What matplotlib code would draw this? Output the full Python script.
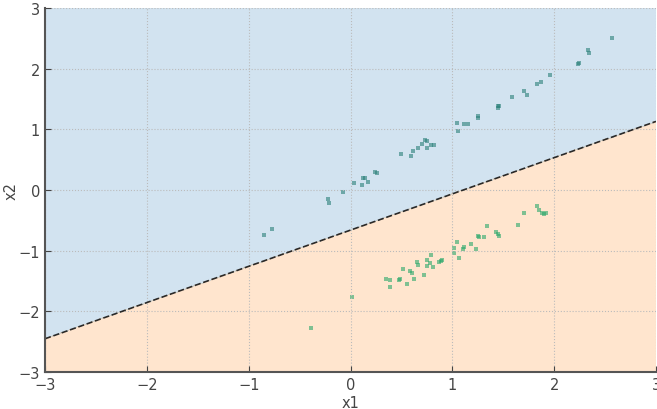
import numpy as np
import matplotlib
matplotlib.use("Agg")
import matplotlib.pyplot as plt

# class above the boundary
x1_a = [-0.85, -0.77, -0.22, -0.21, -0.07, 0.03, 0.11, 0.12, 0.14, 0.17, 0.24, 0.26,
        0.50, 0.59, 0.61, 0.66, 0.70, 0.73, 0.75, 0.75, 0.79, 0.82,
        1.05, 1.06, 1.11, 1.15, 1.25, 1.25, 1.45, 1.46, 1.45, 1.59, 1.70, 1.73,
        1.83, 1.87, 1.96, 2.23, 2.24, 2.33, 2.34, 2.57]
x2_a = [-0.74, -0.64, -0.15, -0.21, -0.03, 0.11, 0.08, 0.20, 0.20, 0.14, 0.29, 0.28,
        0.59, 0.56, 0.65, 0.69, 0.76, 0.83, 0.81, 0.69, 0.74, 0.74,
        1.10, 0.97, 1.09, 1.09, 1.22, 1.19, 1.38, 1.39, 1.35, 1.53, 1.63, 1.56,
        1.74, 1.78, 1.90, 2.08, 2.10, 2.30, 2.26, 2.50]

# class below the boundary
x1_b = [-0.39, 0.01, 0.35, 0.39, 0.39, 0.48, 0.49, 0.52, 0.55, 0.58, 0.60, 0.62,
        0.65, 0.66, 0.72, 0.75, 0.75, 0.79, 0.78, 0.81, 0.87, 0.89, 0.90,
        1.02, 1.02, 1.05, 1.07, 1.10, 1.11, 1.18, 1.23, 1.25, 1.26, 1.31, 1.34,
        1.43, 1.45, 1.46, 1.64, 1.70, 1.83, 1.85, 1.88, 1.90, 1.92]
x2_b = [-2.28, -1.77, -1.47, -1.49, -1.59, -1.48, -1.46, -1.30, -1.54, -1.33, -1.36, -1.46,
        -1.19, -1.24, -1.40, -1.15, -1.25, -1.07, -1.20, -1.26, -1.18, -1.17, -1.15,
        -1.03, -0.96, -0.86, -1.12, -0.97, -0.94, -0.89, -0.97, -0.75, -0.77, -0.78, -0.60,
        -0.69, -0.72, -0.75, -0.58, -0.37, -0.27, -0.33, -0.38, -0.40, -0.37]

# decision boundary x2 = slope * x1 + intercept
slope = 0.597
intercept = -0.66

fig = plt.figure(figsize=(6.57, 4.10), dpi=100)
ax = fig.add_axes([0.0685, 0.090, 0.93, 0.888])

xx = np.linspace(-3, 3, 400)
yy = np.linspace(-3, 3, 400)
XX, YY = np.meshgrid(xx, yy)
Z = (YY > slope * XX + intercept).astype(float)
ax.contourf(XX, YY, Z, levels=[-0.5, 0.5, 1.5], colors=["#ff7f0e", "#1f77b4"], alpha=0.2)

ax.plot(xx, slope * xx + intercept, "k--", lw=1.2, alpha=0.8)

ax.scatter(x1_a, x2_a, marker="s", s=8, color="#2a8078", alpha=0.6, linewidths=0)
ax.scatter(x1_b, x2_b, marker="s", s=8, color="#2aa86a", alpha=0.6, linewidths=0)

ax.set_xlim(-3, 3)
ax.set_ylim(-3, 3)
ax.set_xticks(range(-3, 4))
ax.set_yticks(range(-3, 4))
ax.grid(True, linestyle=":", color="#bbbbbb", lw=0.8)
ax.tick_params(direction="in", colors="#444444", labelsize=10.5, length=4)
for s in ["top", "right"]:
    ax.spines[s].set_visible(False)
for s in ["left", "bottom"]:
    ax.spines[s].set_color("#555555")
    ax.spines[s].set_linewidth(1.5)
ax.set_xlabel("x1", color="#444444", fontsize=10.5, labelpad=2)
ax.set_ylabel("x2", color="#444444", fontsize=10.5, labelpad=0)

fig.savefig("out.png", dpi=100)
